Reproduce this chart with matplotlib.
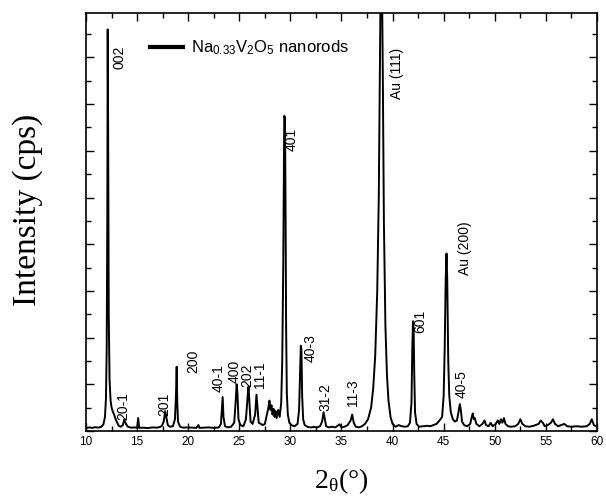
import matplotlib
matplotlib.use("Agg")
import matplotlib.pyplot as plt
from matplotlib.ticker import MultipleLocator, NullFormatter

plt.rcParams['font.family'] = ['Liberation Sans', 'DejaVu Sans']
plt.rcParams['mathtext.default'] = 'regular'

# XRD trace (2theta in degrees, intensity in 1000 cps)
two_theta = [10.0, 10.3, 10.6, 10.9, 11.2, 11.5, 11.7, 11.85, 11.95, 12.02, 12.08, 12.12, 12.17, 12.22, 12.3,
             12.4, 12.5, 12.6, 12.75, 12.9, 13.05, 13.2, 13.4, 13.6, 13.75, 13.9, 14.1, 14.4, 14.8, 15.0,
             15.1, 15.2, 15.6, 16.0, 16.5, 17.0, 17.4, 17.6, 17.75, 17.85, 18.0, 18.2, 18.5, 18.7, 18.8,
             18.87, 18.93, 19.0, 19.2, 19.5, 20.0, 20.4, 20.8, 21.0, 21.1, 21.5, 22.0, 22.5, 23.0, 23.2,
             23.3, 23.37, 23.45, 23.6, 23.9, 24.2, 24.5, 24.65, 24.74, 24.82, 24.92, 25.1, 25.4, 25.65, 25.8,
             25.9, 25.98, 26.1, 26.3, 26.55, 26.68, 26.78, 26.9, 27.1, 27.3, 27.5, 27.7, 27.85, 27.95, 28.05,
             28.15, 28.25, 28.35, 28.45, 28.55, 28.65, 28.8, 28.95, 29.1, 29.2, 29.3, 29.4, 29.47, 29.52, 29.58,
             29.65, 29.75, 29.9, 30.1, 30.4, 30.7, 30.85, 30.95, 31.02, 31.08, 31.15, 31.25, 31.4, 31.7, 32.0,
             32.3, 32.6, 32.9, 33.1, 33.25, 33.35, 33.5, 33.8, 34.1, 34.4, 34.8, 35.0, 35.3, 35.6, 35.9,
             36.05, 36.2, 36.4, 36.7, 37.0, 37.3, 37.6, 37.9, 38.1, 38.3, 38.5, 38.65, 38.75, 38.85, 38.95,
             39.05, 39.15, 39.3, 39.45, 39.6, 39.8, 40.0, 40.3, 40.6, 40.9, 41.2, 41.5, 41.7, 41.85, 41.93,
             42.0, 42.06, 42.12, 42.2, 42.35, 42.6, 43.0, 43.4, 43.7, 44.0, 44.3, 44.6, 44.85, 45.0, 45.1,
             45.2, 45.28, 45.35, 45.45, 45.55, 45.7, 45.9, 46.1, 46.3, 46.45, 46.58, 46.68, 46.8, 47.0, 47.3,
             47.6, 47.75, 47.85, 47.95, 48.05, 48.2, 48.5, 48.8, 49.0, 49.15, 49.4, 49.6, 49.8, 50.1, 50.3,
             50.45, 50.6, 50.75, 50.9, 51.05, 51.3, 51.6, 52.0, 52.3, 52.5, 52.7, 53.0, 53.4, 53.8, 54.0,
             54.3, 54.5, 54.7, 54.9, 55.2, 55.5, 55.7, 55.9, 56.2, 56.5, 56.8, 57.1, 57.5, 58.0, 58.5,
             59.0, 59.3, 59.5, 59.7, 60.0]
intensity = [0.12, 0.15, 0.13, 0.16, 0.14, 0.18, 0.28, 0.6, 1.4, 3.5, 9.0, 17.2, 12.0, 5.0, 2.2,
             1.3, 1.0, 0.85, 0.7, 0.5, 0.35, 0.22, 0.18, 0.25, 0.5, 0.3, 0.18, 0.14, 0.15, 0.13,
             0.55, 0.13, 0.14, 0.12, 0.15, 0.14, 0.2, 0.4, 0.85, 0.6, 0.25, 0.18, 0.2, 0.5, 1.5,
             2.75, 1.2, 0.4, 0.18, 0.14, 0.15, 0.14, 0.13, 0.25, 0.13, 0.14, 0.15, 0.13, 0.15, 0.3,
             1.0, 1.45, 0.6, 0.2, 0.15, 0.18, 0.35, 1.3, 2.0, 1.6, 0.5, 0.25, 0.2, 0.5, 1.4,
             1.9, 1.3, 0.4, 0.3, 0.7, 1.55, 1.0, 0.35, 0.3, 0.25, 0.3, 0.7, 1.0, 1.3, 0.9,
             1.1, 0.7, 0.95, 0.6, 0.85, 0.55, 0.9, 0.6, 1.2, 3.0, 7.0, 13.5, 13.4, 10.0, 4.5,
             1.6, 0.7, 0.35, 0.25, 0.2, 0.3, 0.9, 2.5, 3.65, 3.5, 1.5, 0.5, 0.25, 0.17, 0.15,
             0.17, 0.15, 0.2, 0.4, 0.8, 0.55, 0.2, 0.15, 0.18, 0.15, 0.28, 0.15, 0.18, 0.25, 0.45,
             0.7, 0.35, 0.18, 0.15, 0.2, 0.3, 0.5, 1.0, 1.8, 3.2, 6.0, 10.0, 15.0, 20.0, 20.0,
             15.0, 9.0, 4.5, 2.4, 1.3, 0.6, 0.3, 0.18, 0.25, 0.2, 0.18, 0.2, 0.35, 1.2, 3.5,
             4.7, 4.4, 2.5, 0.8, 0.3, 0.18, 0.2, 0.22, 0.2, 0.25, 0.3, 0.45, 0.6, 1.5, 3.5,
             6.5, 7.6, 6.5, 3.0, 1.5, 0.8, 0.5, 0.4, 0.45, 0.8, 1.15, 0.9, 0.4, 0.25, 0.2,
             0.3, 0.6, 0.75, 0.5, 0.55, 0.3, 0.2, 0.3, 0.45, 0.25, 0.2, 0.35, 0.2, 0.3, 0.45,
             0.3, 0.5, 0.35, 0.55, 0.3, 0.2, 0.18, 0.2, 0.3, 0.5, 0.3, 0.2, 0.18, 0.22, 0.25,
             0.3, 0.45, 0.35, 0.2, 0.25, 0.35, 0.5, 0.3, 0.2, 0.25, 0.3, 0.2, 0.18, 0.2, 0.18,
             0.2, 0.3, 0.5, 0.25, 0.18]

# reflection labels: text, 2theta, height of label start
peak_names = ['002', '20-1', '201', '200', '40-1', '400', '202', '11-1', '401', '40-3',
              '31-2', '11-3', 'Au (111)', '601', 'Au (200)', '40-5']
label_x = [13.23, 13.62, 17.63, 20.47, 23.01, 24.5, 25.75, 27.0, 30.16, 32.0,
           33.39, 36.13, 40.43, 42.68, 47.08, 46.79]
label_y = [15.5, 0.47, 0.64, 2.49, 1.67, 2.06, 1.89, 1.85, 12.0, 2.96,
           0.86, 1.07, 14.2, 4.2, 6.7, 1.42]

fig = plt.figure(figsize=(6.06, 5.04), dpi=100)
ax = fig.add_axes([0.142, 0.145, 0.843, 0.829])

ax.plot(two_theta, intensity, color='black', lw=1.4,
        label='Na$_{0.33}$V$_2$O$_5$ nanorods')

for name, px, py in zip(peak_names, label_x, label_y):
    ax.text(px, py, name, rotation=90, ha='center', va='bottom', fontsize=10)

ax.set_xlim(10, 60)
ax.set_ylim(0, 17.9)
ax.xaxis.set_major_locator(MultipleLocator(5))
ax.xaxis.set_minor_locator(MultipleLocator(2.5))
ax.yaxis.set_major_locator(MultipleLocator(2))
ax.yaxis.set_minor_locator(MultipleLocator(1))
ax.yaxis.set_major_formatter(NullFormatter())
ax.tick_params(which='both', direction='in', top=True, right=True, labelsize=8.5)
ax.tick_params(which='major', length=6, width=1)
ax.tick_params(which='minor', length=3.5, width=1)
for s in ax.spines.values():
    s.set_linewidth(1.2)

ax.set_xlabel('2$_{\\theta}$(°)', family='Liberation Serif', fontsize=20, labelpad=13)
ax.set_ylabel('Intensity (cps)', family='Liberation Serif', fontsize=24)
ax.yaxis.set_label_coords(-0.085, 0.53)

leg = ax.legend(loc='upper left', bbox_to_anchor=(0.095, 0.975), frameon=False,
                handlelength=2.0, handletextpad=0.5, fontsize=12)
leg.get_lines()[0].set_linewidth(3)

fig.savefig('out.png', dpi=100)
